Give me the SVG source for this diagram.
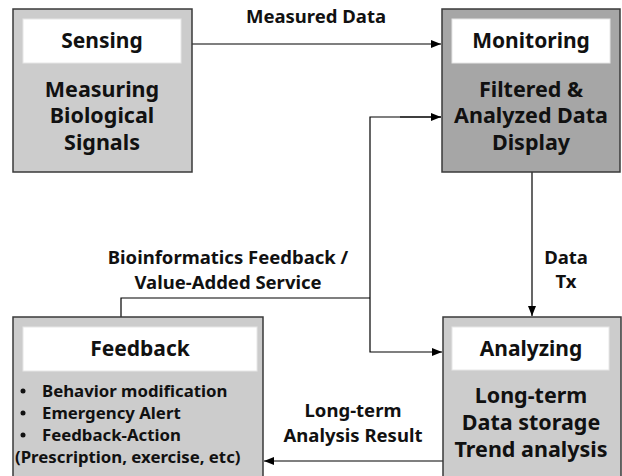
<svg xmlns="http://www.w3.org/2000/svg" width="622" height="476" viewBox="0 0 622 476">
<defs>
<style>
.box{stroke:#3a3a3a;stroke-width:1.5}
.light{fill:#cccccc}
.dark{fill:#a6a6a6}
.inner{fill:#ffffff;stroke:#e6e6e6;stroke-width:1}
text{font-family:"Noto Sans","DejaVu Sans",sans-serif;font-weight:bold;fill:#111}
.title{font-size:21px;text-anchor:middle}
.body{font-size:21.5px;text-anchor:middle}
.lbl{font-size:18.5px;text-anchor:middle}
.list{font-size:16.8px}
.conn{fill:none;stroke:#000;stroke-width:1.2}
</style>
<marker id="arr" viewBox="0 0 10 10" refX="10" refY="5" markerWidth="10" markerHeight="10" markerUnits="userSpaceOnUse" orient="auto">
<path d="M0,1 L10,5 L0,9 Z" fill="#000"/>
</marker>
</defs>
<rect width="622" height="476" fill="#fff"/>
<g id="connectors">
<line class="conn" x1="192" y1="44" x2="441" y2="44" marker-end="url(#arr)"/>
<line class="conn" x1="532" y1="172" x2="532" y2="316" marker-end="url(#arr)"/>
<line class="conn" x1="443" y1="461" x2="264" y2="461" marker-end="url(#arr)"/>
<polyline class="conn" points="121,317 121,298 370,298"/>
<polyline class="conn" points="441,117 370,117 370,352 442,352" marker-end="url(#arr)"/>
<line class="conn" x1="400" y1="117" x2="441" y2="117" marker-end="url(#arr)"/>
<text class="lbl" x="316" y="23">Measured Data</text>
<text class="lbl" x="566" y="264">Data</text>
<text class="lbl" x="566" y="288">Tx</text>
<text class="lbl" x="228" y="264">Bioinformatics Feedback /</text>
<text class="lbl" x="228" y="289">Value-Added Service</text>
<text class="lbl" x="353" y="417">Long-term</text>
<text class="lbl" x="353" y="442">Analysis Result</text>
</g>
<g id="sensing">
<rect class="box light" x="13" y="9" width="179" height="163"/>
<rect class="inner" x="23" y="19" width="158" height="44"/>
<text class="title" x="102" y="48">Sensing</text>
<text class="body" x="102" y="97">Measuring</text>
<text class="body" x="102" y="123">Biological</text>
<text class="body" x="102" y="150">Signals</text>
</g>
<g id="monitoring">
<rect class="box dark" x="442" y="9" width="178" height="163"/>
<rect class="inner" x="452" y="19" width="158" height="44"/>
<text class="title" x="531" y="48">Monitoring</text>
<text class="body" x="531" y="97">Filtered &amp;</text>
<text class="body" x="531" y="123">Analyzed Data</text>
<text class="body" x="531" y="150">Display</text>
</g>
<g id="feedback">
<rect class="box light" x="13" y="317" width="250" height="170"/>
<rect class="inner" x="23" y="327" width="234" height="44"/>
<text class="title" x="140" y="356">Feedback</text>
<circle cx="23" cy="391" r="2.5" fill="#111"/>
<circle cx="23" cy="413" r="2.5" fill="#111"/>
<circle cx="23" cy="435" r="2.5" fill="#111"/>
<text class="list" x="42" y="397">Behavior modification</text>
<text class="list" x="42" y="419">Emergency Alert</text>
<text class="list" x="42" y="441">Feedback-Action</text>
<text class="list" x="15" y="463">(Prescription, exercise, etc)</text>
</g>
<g id="analyzing">
<rect class="box light" x="443" y="317" width="178" height="170"/>
<rect class="inner" x="452" y="327" width="157" height="43"/>
<text class="title" x="531" y="356">Analyzing</text>
<text class="body" x="531" y="403">Long-term</text>
<text class="body" x="531" y="430">Data storage</text>
<text class="body" x="531" y="457">Trend analysis</text>
</g>
</svg>
